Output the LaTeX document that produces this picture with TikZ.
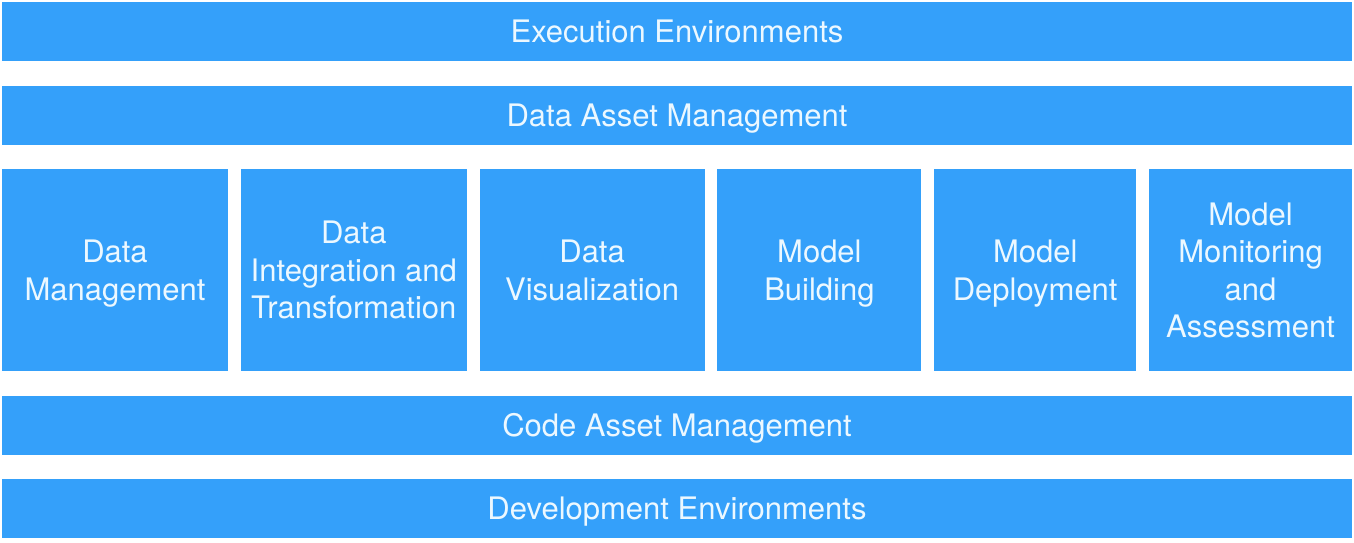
\documentclass[tikz,border=0pt]{standalone}
\usepackage{fontspec}
\setmainfont{TeX Gyre Heros}
\usetikzlibrary{positioning}

\definecolor{tileblue}{RGB}{52,160,250}
\definecolor{tiletext}{RGB}{236,248,255}

\begin{document}
\begin{tikzpicture}[
    node distance=12.25pt and 6.4pt,
    tile/.style={rectangle, fill=tileblue, text=tiletext, inner sep=0pt, outer sep=0pt,
        align=center, text depth=-3.5pt, font=\fontsize{15.5pt}{18.75pt}\selectfont},
    bar/.style={tile, minimum width=675pt, minimum height=29.5pt},
    col/.style={tile, minimum height=101pt}
]
\useasboundingbox (0,0) rectangle (677pt,-271pt);

% -------- Top bars --------
\node[bar, anchor=north west] (exec) at (1pt,-1pt) {Execution Environments};

\node[bar, below=of exec] (dam) {Data Asset Management};

% -------- Middle row --------
\node[col, minimum width=113pt, below right=12.25pt and 0pt of dam.south west] (dm) {
Data \\
Management
};

\node[col, minimum width=113pt, right=of dm] (dit) {
Data \\
Integration and \\
Transformation
};

\node[col, minimum width=112.5pt, right=of dit] (dv) {
Data \\
Visualization
};

\node[col, minimum width=102pt, right=of dv] (mb) {
Model \\
Building
};

\node[col, minimum width=101pt, right=of mb] (mdep) {
Model \\
Deployment
};

\node[col, minimum width=101.5pt, right=of mdep] (mmon) {
Model \\
Monitoring \\
and \\
Assessment
};

% -------- Bottom bars --------
\node[bar, below right=12.25pt and 0pt of dm.south west] (cam) {Code Asset Management};

\node[bar, below=of cam] (dev) {Development Environments};

\end{tikzpicture}
\end{document}
